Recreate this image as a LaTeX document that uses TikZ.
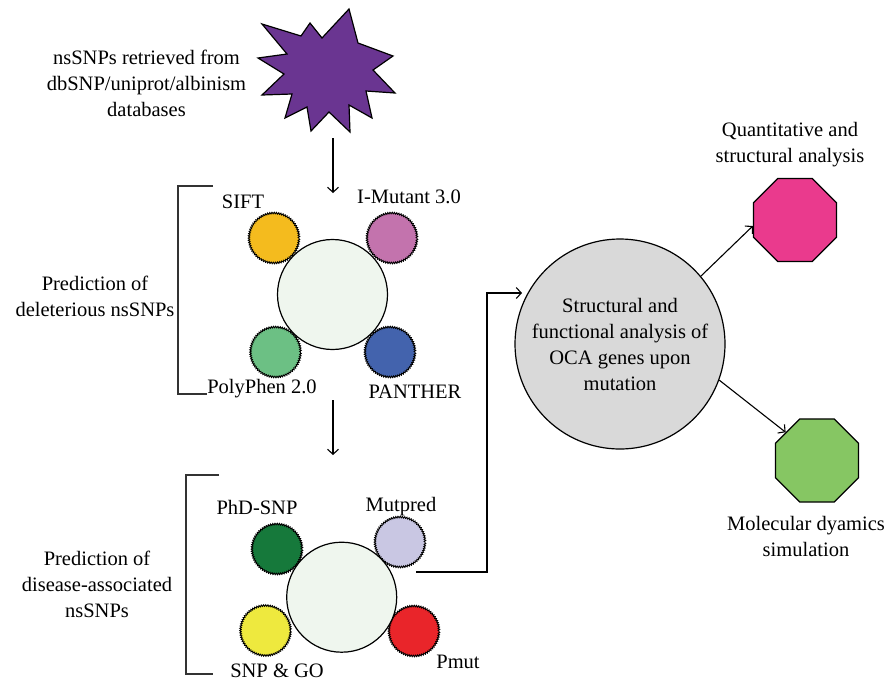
\documentclass[tikz,border=0pt]{standalone}
\usepackage{fontspec}
\setmainfont{Liberation Serif}
\usetikzlibrary{arrows.meta,shapes.geometric,decorations.pathmorphing}

\definecolor{starpurple}{RGB}{106,53,145}
\definecolor{siftc}{RGB}{244,187,30}
\definecolor{imutc}{RGB}{195,115,173}
\definecolor{polyc}{RGB}{108,192,132}
\definecolor{panthc}{RGB}{67,99,173}
\definecolor{phdc}{RGB}{22,121,59}
\definecolor{mutpc}{RGB}{201,199,227}
\definecolor{snpgoc}{RGB}{238,233,62}
\definecolor{pmutc}{RGB}{233,37,42}
\definecolor{hubc}{RGB}{239,246,238}
\definecolor{greyc}{RGB}{217,217,217}
\definecolor{quantc}{RGB}{234,58,141}
\definecolor{mdc}{RGB}{134,198,99}

\tikzset{
  lbl/.style={font=\fontsize{20.5}{26}\selectfont, align=center, inner sep=0pt},
  tool/.style={circle, draw, line width=0.9pt, inner sep=0pt, minimum size=50pt,
    decorate, decoration={zigzag, segment length=2.2pt, amplitude=0.8pt}},
  hub/.style={circle, draw, line width=1.2pt, fill=hubc, inner sep=0pt, minimum size=110pt},
  octa/.style={regular polygon, regular polygon sides=8, draw, line width=1.2pt, inner sep=0pt, minimum size=90pt},
  arr/.style={line width=1.1pt, -{Straight Barb[length=5pt,width=11pt]}},
  brk/.style={line width=1.5pt, draw=black!80}
}

\begin{document}
\begin{tikzpicture}[x=1pt,y=-1pt]
		\useasboundingbox (0,0) rectangle (894,681);
		%%%%% START %%%%%
		
		% source
		\draw[line width=1.2pt, fill=starpurple] (262,24) -- (301,36) -- (310,23) -- (322,38) -- (349,9)
			-- (358,43) -- (393,56) -- (373,70) -- (395,93) -- (366,91) -- (372,118) -- (349,105)
			-- (350,132) -- (329,112) -- (311,131) -- (307,107) -- (285,118) -- (292,94)
			-- (262,95) -- (284,74) -- (258,58) -- (287,54) -- cycle;
		\node[lbl] (srcl) at (146.5,83) {nsSNPs retrieved from\\dbSNP/uniprot/albinism\\databases};
		\coordinate (a1s) at (333,138);
		\coordinate (a1e) at (333,193);
		\draw[arr] (a1s) -- (a1e);
		
		% deleterious nsSNPs
		\draw[brk] (213,186) -- (178,186) -- (178,394) -- (207,394);
		\node[lbl] (delel) at (95,296) {Prediction of\\deleterious nsSNPs};
		\node[tool, fill=siftc] (sift) at (274,238) {};
		\node[tool, fill=imutc] (imut) at (392,238) {};
		\node[tool, fill=polyc] (poly) at (275.5,352) {};
		\node[tool, fill=panthc] (panth) at (390,352) {};
		\node[hub] (hub1) at (332.5,294.5) {};
		\node[lbl] (siftl) at (243,202) {SIFT};
		\node[lbl] (imutl) at (409,197) {I-Mutant 3.0};
		\node[lbl] (polyl) at (262,389) {PolyPhen 2.0};
		\node[lbl] (panthl) at (415,391.5) {PANTHER};
		
		\coordinate (a2s) at (333,400);
		\coordinate (a2e) at (333,455);
		\draw[arr] (a2s) -- (a2e);
		
		% disease-associated nsSNPs
		\draw[brk] (219,475) -- (186,475) -- (186,674) -- (213,674);
		\node[lbl] (disl) at (97,584) {Prediction of\\disease-associated\\nsSNPs};
		\node[tool, fill=phdc] (phd) at (277,549) {};
		\node[tool, fill=mutpc] (mutp) at (400,542) {};
		\node[tool, fill=snpgoc] (snpgo) at (265.5,630.5) {};
		\node[tool, fill=pmutc] (pmut) at (414,631) {};
		\node[hub] (hub2) at (341.7,597.2) {};
		\node[lbl] (phdl) at (257,507) {PhD-SNP};
		\node[lbl] (mutpl) at (401,507) {Mutpred};
		\node[lbl] (snpgol) at (277,670.5) {SNP \& GO};
		\node[lbl] (pmutl) at (458,662) {Pmut};
		
		% analysis
		\node[lbl, circle, draw, line width=1.2pt, fill=greyc, minimum size=210pt] (sa) at (620,344)
			{Structural and\\functional analysis of\\OCA genes upon\\mutation};
		\coordinate (h2out) at (416,572);
		\coordinate (h2turn) at (487,293);
		\coordinate (sain) at (522,293);
		\draw[arr] (h2out) -| (h2turn) -- (sain);
		
		\node[octa, fill=quantc] (quant) at (795,220) {};
		\node[lbl] (quantl) at (790,145) {Quantitative and\\structural analysis};
		\node[octa, fill=mdc] (md) at (817,460.5) {};
		\node[lbl] (mdl) at (806,536) {Molecular dyamics\\simulation};
		\draw[arr] (sa.40) -- ([yshift=-6pt]quant.west);
		\draw[arr] (sa.-20) -- (md.138);
		
		%%%%% END %%%%%
\end{tikzpicture}
\end{document}
